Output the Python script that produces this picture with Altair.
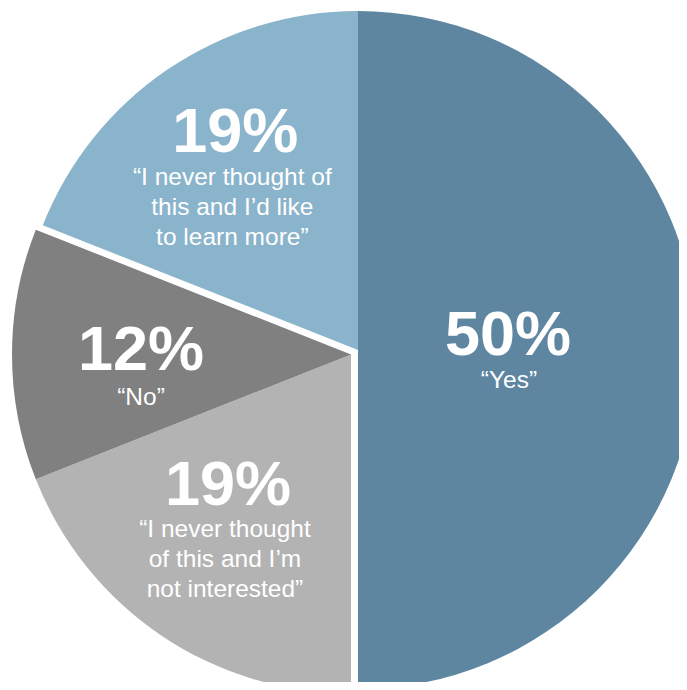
import altair as alt
import pandas as pd

# ---- data ----
categories = ["Yes", "Not interested", "No", "Learn more"]
values = [50, 19, 12, 19]
pct_labels = ["50%", "19%", "12%", "19%"]
quote_labels = [
    "\u201cYes\u201d",
    "\u201cI never thought\nof this and I\u2019m\nnot interested\u201d",
    "\u201cNo\u201d",
    "\u201cI never thought of\nthis and I\u2019d like\nto learn more\u201d",
]
colors = ["#5E86A1", "#B3B3B3", "#808080", "#8AB4CB"]

df = pd.DataFrame({
    "cat": categories,
    "value": values,
    "order": list(range(len(categories))),
    "pct": pct_labels,
    "quote": quote_labels,
})

# ---- layout (chart coordinates) ----
R = 339
CX, CY = 350, 342            # pie centre
EX, EY = 343, 346.5          # centre of the exploded (grey) group
exploded = ["Not interested", "No"]

theta_scale = alt.Scale(domain=[0, 100])
color_scale = alt.Scale(domain=categories, range=colors)

base = (
    alt.Chart(df)
    .transform_window(end="sum(value)", sort=[alt.SortField("order")])
    .transform_calculate(start="datum.end - datum.value",
                         mid="(datum.end - datum.value + datum.end) / 2")
)

def arcs(cats, cx, cy):
    flt = " || ".join([f"datum.cat === '{c}'" for c in cats])
    return base.transform_filter(flt).mark_arc(radius=R).encode(
        theta=alt.Theta("start:Q", scale=theta_scale, stack=False),
        theta2="end:Q",
        color=alt.Color("cat:N", scale=color_scale, legend=None),
        x=alt.value(cx),
        y=alt.value(cy),
    )

# per-slice label placement: (centre x, centre y, radius, pct dx, pct dy, quote dx, quote dy)
label_style = {
    "Yes":            (CX, CY, 150, 0, 5, 1, 38),
    "Learn more":     (CX, CY, 220, 1, -16, -2, 17),
    "Not interested": (EX, EY, 210, -5, -23, -8, 9),
    "No":             (EX, EY, 210, 0, 15, 0, 50),
}

layers = [arcs(["Yes", "Learn more"], CX, CY), arcs(exploded, EX, EY)]

for cat, (cx, cy, r, pdx, pdy, qdx, qdy) in label_style.items():
    sub = base.transform_filter(alt.datum.cat == cat)
    layers.append(
        sub.mark_text(radius=r, dx=pdx, dy=pdy, font="Liberation Sans",
                      fontWeight="bold", fontSize=63, color="white",
                      align="center", baseline="alphabetic").encode(
            theta=alt.Theta("mid:Q", scale=theta_scale, stack=False),
            text="pct:N",
            x=alt.value(cx), y=alt.value(cy),
        )
    )
    layers.append(
        sub.mark_text(radius=r, dx=qdx, dy=qdy, font="Liberation Sans",
                      fontSize=24.5, lineHeight=30, lineBreak="\n", color="white",
                      align="center", baseline="alphabetic").encode(
            theta=alt.Theta("mid:Q", scale=theta_scale, stack=False),
            text="quote:N",
            x=alt.value(cx), y=alt.value(cy),
        )
    )

chart = (
    alt.layer(*layers)
    .properties(width=671, height=674, padding=0,
                autosize=alt.AutoSizeParams(type="none"))
    .configure_view(stroke=None)
)

chart.save("out.html", embed_options={"renderer": "svg", "actions": False})
